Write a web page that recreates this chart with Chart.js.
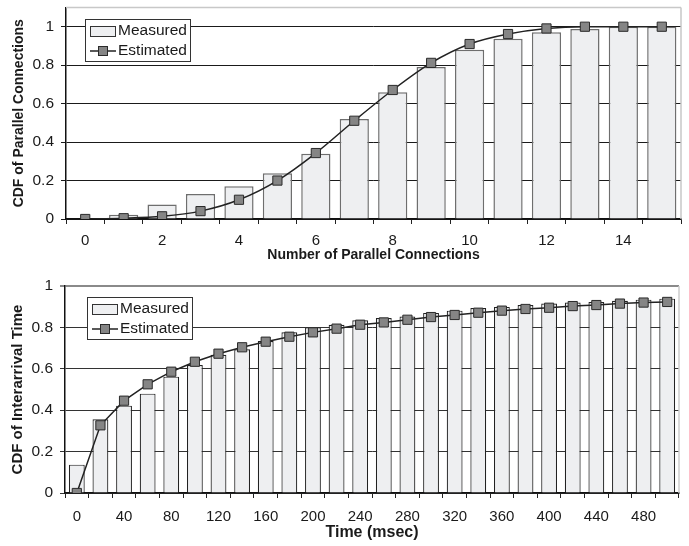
<!DOCTYPE html>
<html>
<head>
<meta charset="utf-8">
<script src="https://cdn.jsdelivr.net/npm/chart.js@4.4.1/dist/chart.umd.min.js"></script>
<style>
  body { margin: 0; background: #fff; }
  canvas { position: absolute; left: 0; }
  #connChart { top: 0; }
  #timeChart { top: 270px; }
</style>
</head>
<body>
<canvas id="connChart" width="689" height="270"></canvas>
<canvas id="timeChart" width="689" height="276"></canvas>
<script>
var connLabels = ["0", "1", "2", "3", "4", "5", "6", "7", "8", "9", "10", "11", "12", "13", "14", "15"];
var connMeasured = [0, 0.022, 0.075, 0.13, 0.17, 0.238, 0.34, 0.52, 0.659, 0.79, 0.88, 0.938, 0.971, 0.988, 1.0, 1.0];
var connEstimated = [0, 0.004, 0.014, 0.041, 0.1, 0.2, 0.343, 0.511, 0.671, 0.812, 0.91, 0.962, 0.991, 1.0, 1.0, 1.0];

var timeLabels = ["0", "20", "40", "60", "80", "100", "120", "140", "160", "180", "200", "220", "240",
  "260", "280", "300", "320", "340", "360", "380", "400", "420", "440", "460", "480", "500"];
var timeMeasured = [0.137, 0.356, 0.422, 0.48, 0.562, 0.618, 0.668, 0.694, 0.734, 0.776, 0.8, 0.813, 0.834,
  0.845, 0.853, 0.87, 0.881, 0.894, 0.899, 0.908, 0.915, 0.92, 0.923, 0.929, 0.934, 0.939];
var timeEstimated = [0, 0.327, 0.446, 0.525, 0.586, 0.634, 0.673, 0.704, 0.731, 0.755, 0.776, 0.794, 0.813,
  0.824, 0.837, 0.85, 0.86, 0.871, 0.881, 0.889, 0.895, 0.903, 0.908, 0.915, 0.92, 0.923];

var fontFam = "'Liberation Sans', Arial, Helvetica, sans-serif";
var barFill = "#eeeff1";
var barEdge = "#6e6e6e";
var markFill = "#858585";
var markEdge = "#2a2a2a";

// light frame on top/right of plot + boxed legend inside the plot
var framePlugin = {
  id: "frameLegend",
  afterDraw: function (chart, args, opts) {
    var c = chart.ctx;
    var a = chart.chartArea;
    c.save();
    c.strokeStyle = opts.frameColor;
    c.lineWidth = 1.5;
    c.beginPath();
    if (opts.drawTop) {
      c.moveTo(a.left, a.top);
      c.lineTo(a.right, a.top);
    }
    c.moveTo(a.right, a.top);
    c.lineTo(a.right, a.bottom);
    c.stroke();

    var x = opts.x, y = opts.y, w = 105, h = 42;
    c.fillStyle = "#fff";
    c.fillRect(x, y, w, h);
    c.strokeStyle = "#333";
    c.lineWidth = 1;
    c.strokeRect(x + 0.5, y + 0.5, w, h);

    // measured swatch
    c.fillStyle = barFill;
    c.fillRect(x + 5, y + 7, 25, 10);
    c.strokeStyle = "#333";
    c.strokeRect(x + 5.5, y + 7.5, 25, 10);
    // estimated line + marker
    c.strokeStyle = "#222";
    c.lineWidth = 1.5;
    c.beginPath();
    c.moveTo(x + 5, y + 32);
    c.lineTo(x + 31, y + 32);
    c.stroke();
    c.fillStyle = markFill;
    c.fillRect(x + 13.5, y + 27.5, 9, 9);
    c.strokeStyle = markEdge;
    c.lineWidth = 1;
    c.strokeRect(x + 13.5, y + 27.5, 9, 9);

    c.fillStyle = "#1a1a1a";
    c.font = "15.5px " + fontFam;
    c.textBaseline = "middle";
    c.fillText("Measured", x + 33, y + 12);
    c.fillText("Estimated", x + 33, y + 32);
    c.restore();
  }
};

function evenOnly(val, i) {
  return i % 2 === 0 ? this.getLabelForValue(val) : "";
}

function plainNum(val) {
  return String(Math.round(val * 10) / 10);
}

function fixX(h) {
  return function (s) { s.height = h; s.paddingLeft = 0; s.paddingRight = 0; };
}

function fixY(w) {
  return function (s) { s.width = w; s.paddingTop = 0; s.paddingBottom = 0; };
}

var ctx = document.getElementById("connChart");
var connChart = new Chart(ctx, {
  type: "bar",
  data: {
    labels: connLabels,
    datasets: [
      {
        type: "line",
        label: "Estimated",
        data: connEstimated,
        borderColor: "#222",
        borderWidth: 1.5,
        cubicInterpolationMode: "monotone",
        pointStyle: "rect",
        pointRadius: 6.5,
        pointBackgroundColor: markFill,
        pointBorderColor: markEdge,
        pointBorderWidth: 1,
        order: 0,
      },
      {
        label: "Measured",
        data: connMeasured,
        backgroundColor: barFill,
        borderColor: barEdge,
        borderWidth: 1.5,
        barPercentage: 0.76,
        categoryPercentage: 1,
        order: 1,
      },
    ],
  },
  options: {
    responsive: false,
    animation: false,
    devicePixelRatio: 1,
    layout: { padding: { top: 5, right: 8, left: 0, bottom: 0 } },
    plugins: {
      legend: { display: false },
      tooltip: { enabled: false },
      frameLegend: { x: 85, y: 19, drawTop: true, frameColor: "#c8c8c8" },
    },
    scales: {
      x: {
        afterFit: fixX(51),
        grid: { drawOnChartArea: false, drawTicks: true, tickLength: 5, color: "#222", offset: true },
        border: { color: "#111", width: 1.5 },
        ticks: { autoSkip: false, maxRotation: 0, padding: 8, color: "#1a1a1a",
          font: { family: fontFam, size: 15 }, callback: evenOnly },
        title: { display: true, text: "Number of Parallel Connections", color: "#1a1a1a",
          font: { family: fontFam, size: 14, weight: "bold" }, padding: { top: 0, bottom: 6 } },
      },
      y: {
        min: 0,
        max: 1.1,
        afterFit: fixY(66),
        grid: { color: "#1a1a1a", lineWidth: 1, tickLength: 5 },
        border: { color: "#111", width: 1.5 },
        ticks: { stepSize: 0.2, includeBounds: false, padding: 7, color: "#1a1a1a",
          font: { family: fontFam, size: 15.5 }, callback: plainNum },
        title: { display: true, text: "CDF of Parallel Connections", color: "#1a1a1a",
          font: { family: fontFam, size: 14, weight: "bold" }, padding: { top: 11, bottom: 0 } },
      },
    },
  },
  plugins: [framePlugin],
});

ctx = document.getElementById("timeChart");
var timeChart = new Chart(ctx, {
  type: "bar",
  data: {
    labels: timeLabels,
    datasets: [
      {
        type: "line",
        label: "Estimated",
        data: timeEstimated,
        borderColor: "#222",
        borderWidth: 1.5,
        tension: 0,
        pointStyle: "rect",
        pointRadius: 6.5,
        pointBackgroundColor: markFill,
        pointBorderColor: markEdge,
        pointBorderWidth: 1,
        order: 0,
      },
      {
        label: "Measured",
        data: timeMeasured,
        backgroundColor: barFill,
        borderColor: "#222",
        borderWidth: 1.2,
        barPercentage: 0.67,
        categoryPercentage: 1,
        order: 1,
      },
    ],
  },
  options: {
    responsive: false,
    animation: false,
    devicePixelRatio: 1,
    layout: { padding: { top: 16, right: 10, left: 0, bottom: 0 } },
    plugins: {
      legend: { display: false },
      tooltip: { enabled: false },
      frameLegend: { x: 87, y: 27, drawTop: false, frameColor: "#cccccc" },
    },
    scales: {
      x: {
        afterFit: fixX(53),
        grid: { drawOnChartArea: false, drawTicks: true, tickLength: 5, color: "#222", offset: true },
        border: { color: "#111", width: 1.5 },
        ticks: { autoSkip: false, maxRotation: 0, padding: 10, color: "#1a1a1a",
          font: { family: fontFam, size: 15 }, callback: evenOnly },
        title: { display: true, text: "Time (msec)", color: "#1a1a1a",
          font: { family: fontFam, size: 16, weight: "bold" }, padding: { top: 0, bottom: 4 } },
      },
      y: {
        min: 0,
        max: 1,
        afterFit: fixY(65),
        grid: {
          color: function (c) { return c.tick && c.tick.value === 1 ? "#8a8a8a" : "#333"; },
          lineWidth: function (c) { return c.tick && c.tick.value === 1 ? 2 : 1; },
          tickLength: 5,
        },
        border: { color: "#111", width: 1.5 },
        ticks: { stepSize: 0.2, padding: 7, color: "#1a1a1a", font: { family: fontFam, size: 15.5 },
          callback: plainNum },
        title: { display: true, text: "CDF of Interarrival Time", color: "#1a1a1a",
          font: { family: fontFam, size: 15, weight: "bold" }, padding: { top: 8.5, bottom: 0 } },
      },
    },
  },
  plugins: [framePlugin],
});
</script>
</body>
</html>
